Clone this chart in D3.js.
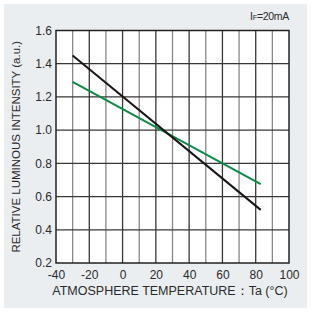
<!DOCTYPE html>
<html>
<head>
<meta charset="utf-8">
<script src="https://cdn.jsdelivr.net/npm/d3@7"></script>
<style>
  body { margin: 0; background: #fff; }
  text { font-family: "Liberation Sans", Arial, sans-serif; fill: #2a2a2a; }
</style>
</head>
<body>
<svg width="311" height="312"></svg>
<script>
// data
const temps = [-30, 83];
const blackSeries = [1.45, 0.52];
const greenSeries = [1.29, 0.675];
const xTicks = [-40, -20, 0, 20, 40, 60, 80, 100];
const yTicks = [0.2, 0.4, 0.6, 0.8, 1.0, 1.2, 1.4, 1.6];
const xGrid = d3.range(-30, 100, 10);

const svg = d3.select('svg');
const width = parseFloat(svg.attr('width'));
const height = parseFloat(svg.attr('height'));

svg.append('rect')
  .attr('x', 4).attr('y', 4)
  .attr('width', width - 8).attr('height', height - 8)
  .attr('fill', '#ebeef1');

const margin = {left: 56, right: 22, top: 30.5, bottom: 49};
const x = d3.scaleLinear().domain([-40, 100]).range([margin.left, width - margin.right]);
const y = d3.scaleLinear().domain([0.2, 1.6]).range([height - margin.bottom, margin.top]);

// plot area
svg.append('rect')
  .attr('x', x(-40)).attr('y', y(1.6))
  .attr('width', x(100) - x(-40)).attr('height', y(0.2) - y(1.6))
  .attr('fill', '#fff');

// vertical grid: odd tens lighter, even tens dark
svg.append('g').selectAll('line')
  .data(xGrid)
  .join('line')
    .attr('x1', d => x(d)).attr('x2', d => x(d))
    .attr('y1', y(0.2)).attr('y2', y(1.6))
    .attr('stroke', d => (d / 10) % 2 === 0 ? '#3a3636' : '#8c8686')
    .attr('stroke-width', 1.3);

// horizontal grid
svg.append('g').selectAll('line')
  .data(yTicks.slice(1, -1))
  .join('line')
    .attr('x1', x(-40)).attr('x2', x(100))
    .attr('y1', d => y(d)).attr('y2', d => y(d))
    .attr('stroke', '#3a3636')
    .attr('stroke-width', 1.3);

// frame
svg.append('rect')
  .attr('x', x(-40)).attr('y', y(1.6))
  .attr('width', x(100) - x(-40)).attr('height', y(0.2) - y(1.6))
  .attr('fill', 'none')
  .attr('stroke', '#222')
  .attr('stroke-width', 1.5);

// axes labels (plain hyphen for negatives, like the original)
const xAxis = d3.axisBottom(x).tickValues(xTicks).tickFormat(d => String(d)).tickSize(0).tickPadding(7);
svg.append('g')
  .attr('transform', `translate(0, ${y(0.2)})`)
  .call(xAxis)
  .call(g => g.select('.domain').remove())
  .selectAll('text')
    .attr('font-size', 12)
    .attr('font-family', '"Liberation Sans", Arial, sans-serif')
    .attr('fill', '#2a2a2a');

const yAxis = d3.axisLeft(y).tickValues(yTicks).tickFormat(d3.format('.1f')).tickSize(0).tickPadding(4);
svg.append('g')
  .attr('transform', `translate(${x(-40)}, 0)`)
  .call(yAxis)
  .call(g => g.select('.domain').remove())
  .selectAll('text')
    .attr('font-size', 12)
    .attr('font-family', '"Liberation Sans", Arial, sans-serif')
    .attr('fill', '#2a2a2a');

// series lines
const line = d3.line().x((d, i) => x(temps[i])).y(d => y(d));
svg.append('path')
  .attr('d', line(greenSeries))
  .attr('fill', 'none')
  .attr('stroke', '#0d8a45')
  .attr('stroke-width', 2);
svg.append('path')
  .attr('d', line(blackSeries))
  .attr('fill', 'none')
  .attr('stroke', '#1a1414')
  .attr('stroke-width', 2);

// titles
svg.append('text')
  .attr('x', 170).attr('y', 295)
  .attr('text-anchor', 'middle')
  .attr('font-size', 12.5)
  .text('ATMOSPHERE TEMPERATURE：Ta  (°C)');

svg.append('text')
  .attr('transform', `translate(20, ${(y(0.2) + y(1.6)) / 2}) rotate(-90)`)
  .attr('text-anchor', 'middle')
  .attr('font-size', 11.5)
  .text('RELATIVE LUMINOUS INTENSITY (a.u.)');

const cond = svg.append('text')
  .attr('x', 289).attr('y', 20)
  .attr('text-anchor', 'end')
  .attr('font-size', 10.5)
  .attr('letter-spacing', -0.3);
cond.append('tspan').text('I');
cond.append('tspan').attr('font-size', 7.5).text('F');
cond.append('tspan').text('=20mA');
</script>
</body>
</html>
